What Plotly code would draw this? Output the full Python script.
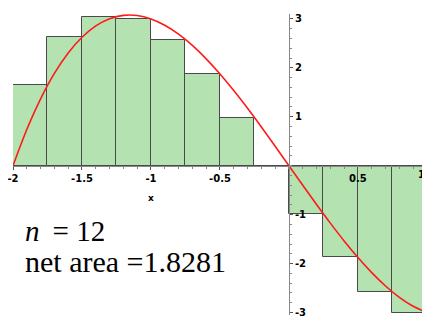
import plotly.graph_objects as go

# right-endpoint Riemann sum, n = 12 on [-2, 1]
rect_right = [-1.75, -1.5, -1.25, -1.0, -0.75, -0.5, -0.25, 0.0, 0.25, 0.5, 0.75, 1.0]
rect_height = [1.641, 2.625, 3.047, 3.0, 2.578, 1.875, 0.984, 0.0, -0.984, -1.875, -2.578, -3.0]
rect_width = 0.25

# curve
curve_x = [-2.0, -1.9, -1.8, -1.7, -1.6, -1.5, -1.4, -1.3, -1.2, -1.1, -1.0,
           -0.9, -0.8, -0.7, -0.6, -0.5, -0.4, -0.3, -0.2, -0.1, 0.0,
           0.1, 0.2, 0.3, 0.4, 0.5, 0.6, 0.7, 0.8, 0.9, 1.0]
curve_y = [0.0, 0.741, 1.368, 1.887, 2.304, 2.625, 2.856, 3.003, 3.072, 3.069, 3.0,
           2.871, 2.688, 2.457, 2.184, 1.875, 1.536, 1.173, 0.792, 0.399, 0.0,
           -0.399, -0.792, -1.173, -1.536, -1.875, -2.184, -2.457, -2.688, -2.871, -3.0]

x_ticks = [-2, -1.5, -1, -0.5, 0.5, 1]
x_ticktext = ["-2", "-1.5", "-1", "-0.5", "0.5", ""]
x_last_label = "1"
y_ticks = [-3, -2, -1, 1, 2, 3]
y_ticktext = ["-3", "-2", "-1", "1", "2", "3"]

n_label = "<i>n</i> \u2009= 12"
area_label = "net area =1.8281"

x_range = [-2, 1.015]
y_range = [-3.05, 3.1]

fig = go.Figure()
fig.add_trace(go.Bar(x=rect_right, y=rect_height, width=rect_width, offset=-rect_width,
                     marker=dict(color="#b4e2b0", line=dict(color="#4a4a4a", width=1)),
                     showlegend=False, hoverinfo="skip"))
fig.add_trace(go.Scatter(x=curve_x, y=curve_y, mode="lines", line_shape="spline",
                         line=dict(color="#ff1a1a", width=1.6), showlegend=False))

tickfont = dict(family="DejaVu Sans", size=10, color="black", weight="bold")
# the page body adds an 8px offset, so the figure is a bit smaller than the window
fig.update_layout(
    width=422, height=315,
    margin=dict(l=5, r=1, t=6, b=8),
    paper_bgcolor="white", plot_bgcolor="white",
    bargap=0,
    xaxis=dict(range=x_range, anchor="free", position=(0 - y_range[0]) / (y_range[1] - y_range[0]),
               automargin=False, ticklabeloverflow="allow",
               showgrid=False, zeroline=False, showline=True, linecolor="#888", linewidth=1,
               tickmode="array", tickvals=x_ticks, ticktext=x_ticktext, tickfont=tickfont,
               ticks="outside", ticklen=3, tickcolor="#555",
               minor=dict(dtick=0.1, tick0=0, ticks="outside", ticklen=2, tickcolor="#888")),
    yaxis=dict(range=y_range, anchor="free", side="right",
               position=(0 - x_range[0]) / (x_range[1] - x_range[0]),
               automargin=False, ticklabeloverflow="allow",
               showgrid=False, zeroline=False, showline=True, linecolor="#888", linewidth=1,
               tickmode="array", tickvals=y_ticks, ticktext=y_ticktext, tickfont=tickfont,
               ticks="outside", ticklen=3, tickcolor="#555",
               minor=dict(dtick=0.2, tick0=0, ticks="outside", ticklen=2, tickcolor="#888")),
)

# the last x tick label sits on the page edge, so place it just inside
fig.add_annotation(x=x_ticks[-1], y=-0.17, xref="x", yref="y", text=x_last_label,
                   showarrow=False, xanchor="right", yanchor="middle", font=tickfont)
fig.add_annotation(x=-1, y=-0.65, xref="x", yref="y", text="x", showarrow=False,
                   font=dict(family="DejaVu Sans", size=9, color="black", weight="bold"))
fig.add_annotation(x=-1.928, y=-1.33, xref="x", yref="y", text=n_label, showarrow=False,
                   xanchor="left", yanchor="middle",
                   font=dict(family="Liberation Serif", size=29, color="black"))
fig.add_annotation(x=-1.928, y=-1.96, xref="x", yref="y", text=area_label, showarrow=False,
                   xanchor="left", yanchor="middle",
                   font=dict(family="Liberation Serif", size=30, color="black"))

fig.write_html("out.html")
